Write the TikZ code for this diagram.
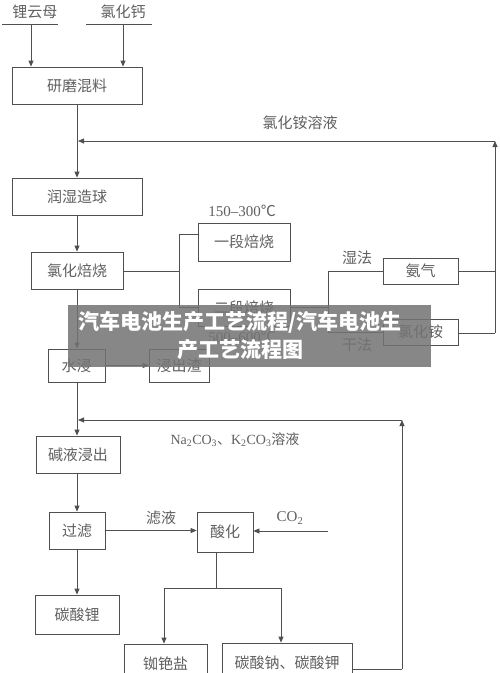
\documentclass[tikz,border=0pt]{standalone}
\usepackage{fontspec}
\setmainfont{Liberation Serif}
\newfontfamily\cjk{Noto Sans CJK SC}
\usetikzlibrary{arrows.meta}
\definecolor{lc}{HTML}{505050}
\definecolor{tc}{HTML}{606060}
\begin{document}
\begin{tikzpicture}[x=1pt,y=-1pt,
  box/.style={draw=lc, line width=0.8pt, inner sep=0pt, text=tc, font=\cjk\fontsize{15}{15}\selectfont},
  lab/.style={text=tc, inner sep=0pt, font=\cjk\fontsize{15}{15}\selectfont},
  ltn/.style={text=tc, inner sep=0pt, font=\fontsize{15}{15}\selectfont},
  wire/.style={draw=lc, line width=0.8pt},
  arr/.style={wire, -{Triangle[length=6pt,width=5pt]}},
  bantext/.style={text=white, inner sep=0pt, font=\cjk\bfseries\fontsize{21}{21}\selectfont}]
\fill[white] (0,0) rectangle (500,673);
\useasboundingbox (0,0) rectangle (500,673);
\clip (0,0) rectangle (500,673);

% sources
\node[lab] (s1) at (35,12) {锂云母};
\node[lab] (s2) at (123,12) {氯化钙};
\coordinate (u1a) at (2,24); \coordinate (u1b) at (58,24);
\coordinate (u2a) at (86,24); \coordinate (u2b) at (152,24);
\draw[wire] (u1a) -- (u1b);
\draw[wire] (u2a) -- (u2b);
\coordinate (d1) at (31,24); \coordinate (d2) at (123,24);

% boxes
\node[box, minimum width=130, minimum height=37] (mix) at (77,85.5) {研磨混料};
\node[box, minimum width=130, minimum height=37] (ball) at (77,196.5) {润湿造球};
\node[box, minimum width=92, minimum height=37] (chl) at (77,270.5) {氯化焙烧};
\node[box, minimum width=92, minimum height=38] (one) at (244,242) {一段焙烧};
\node[box, minimum width=92, minimum height=37] (two) at (244,307.5) {二段焙烧};
\node[box, minimum width=75, minimum height=26] (nh3) at (420.5,271) {氨气};
\node[box, minimum width=75, minimum height=26] (nh4) at (420.5,332) {氯化铵};
\node[box, minimum width=57, minimum height=33] (water) at (76.5,365.5) {水浸};
\node[box, minimum width=60, minimum height=33] (res) at (179,365.5) {浸出渣};
\node[box, minimum width=84, minimum height=37] (alk) at (78,454.5) {碱液浸出};
\node[box, minimum width=56, minimum height=37] (filt) at (77,530.5) {过滤};
\node[box, minimum width=56, minimum height=40] (acid) at (225,532) {酸化};
\node[box, minimum width=84, minimum height=39] (li) at (77,614.5) {碳酸锂};
\node[box, minimum width=83, minimum height=39] (rbcs) at (165.5,663.5) {铷铯盐};
\node[box, minimum width=130, minimum height=40] (nak) at (287,663) {碳酸钠、碳酸钾};

% labels
\node[lab] (lnh4) at (300,123) {氯化铵溶液};
\node[ltn] (t1) at (242,211) {150–300{\cjk ℃}};
\node[ltn] (t2) at (242,337) {500–600{\cjk ℃}};
\node[lab] (wet) at (357,258) {湿法};
\node[lab] (dry) at (357,345) {干法};
\node[ltn, font=\fontsize{14}{14}\selectfont] (naco) at (235,440) {Na\textsubscript{2}CO\textsubscript{3}{\cjk 、}K\textsubscript{2}CO\textsubscript{3}{\cjk 溶液}};
\node[lab] (lyq) at (161,518) {滤液};
\node[ltn] (co2) at (290,518) {CO\textsubscript{2}};

% connectors
\draw[arr] (d1) -- (d1 |- mix.north);
\draw[arr] (d2) -- (d2 |- mix.north);
\draw[arr] (mix.south) -- (ball.north);
\draw[arr] (ball.south) -- (chl.north);

\coordinate (r1) at (495,333);
\coordinate (r0) at (495,271);
\coordinate (r2) at (495,141);
\coordinate (r3) at (78,141);
\draw[wire] (nh3.east) -- (r0);
\draw[wire] (nh4.east |- r1) -- (r1);
\draw[arr] (r1) -- (r2);
\draw[arr] (r2) -- (r3);

\coordinate (b0) at (179,271);
\coordinate (b1) at (179,234);
\coordinate (b2) at (179,307);
\draw[wire] (chl.east |- b0) -- (b0);
\draw[wire] (b1) -- (b2);
\draw[wire] (b1) -- (b1 -| one.west);
\draw[wire] (b2) -- (b2 -| two.west);

\coordinate (w0) at (328,307);
\coordinate (w1) at (328,271);
\coordinate (w2) at (328,332);
\draw[wire] (two.east |- w0) -- (w0);
\draw[wire] (w1) -- (w2);
\draw[wire] (w1) -- (nh3.west);
\draw[wire] (w2) -- (nh4.west);

\draw[arr] (chl.south) -- (water.north -| chl.south);
\draw[arr] (water.east) -- (res.west);
\draw[arr] (water.south -| chl.south) -- (alk.north -| chl.south);

\coordinate (k1) at (402,669);
\coordinate (k2) at (402,420);
\coordinate (k3) at (78,420);
\draw[wire] (nak.east |- k1) -- (k1);
\draw[arr] (k1) -- (k2);
\draw[arr] (k2) -- (k3);

\draw[arr] (alk.south -| filt.north) -- (filt.north);
\draw[arr] (filt.east) -- (acid.west |- filt.east);
\coordinate (c0) at (328,531);
\draw[arr] (c0) -- (acid.east |- c0);
\draw[arr] (filt.south) -- (li.north);

\coordinate (a0) at (216,552);
\coordinate (a1) at (216,588);
\coordinate (sl) at (164,588);
\coordinate (sr) at (281,588);
\draw[wire] (a0) -- (a1);
\draw[wire] (sl) -- (sr);
\draw[arr] (sl) -- (sl |- rbcs.north);
\draw[arr] (sr) -- (sr |- nak.north);

% banner
\fill[black!55, opacity=0.85] (68,305) rectangle (431,367);
\node[bantext] (ban1) at (240,322) {汽车电池生产工艺流程/汽车电池生};
\node[bantext] (ban2) at (240,350) {产工艺流程图};
\end{tikzpicture}
\end{document}
